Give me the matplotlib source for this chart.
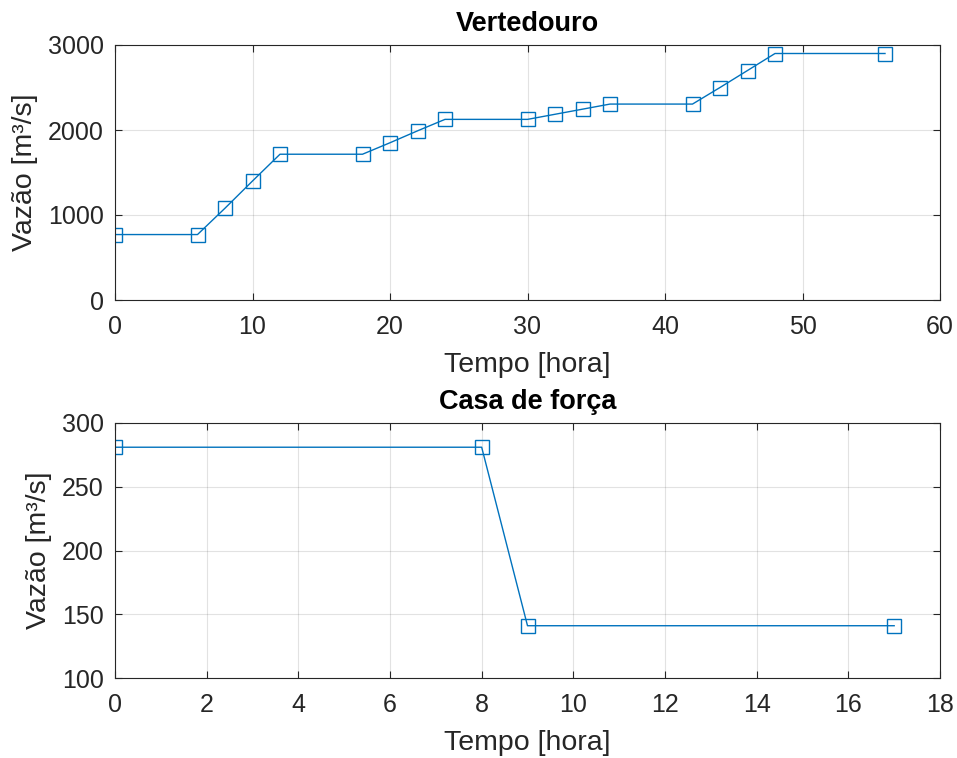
import matplotlib
matplotlib.use("Agg")
import matplotlib.pyplot as plt

# --------------------------------------------
# Data
# --------------------------------------------

t_vert = [0, 6, 8, 10, 12, 18, 20, 22, 24, 30, 32, 34, 36, 42, 44, 46, 48, 56]
q_vert = [770, 770, 1080, 1400, 1715, 1715, 1850, 1990, 2125, 2125,
          2185, 2245, 2305, 2305, 2500, 2700, 2900, 2900]

t_casa = [0, 8, 9, 17]
q_casa = [281, 281, 141, 141]

plt.rcParams["font.family"] = ["Liberation Sans", "DejaVu Sans"]

blue = "#0072BD"
dark = "#262626"

fig = plt.figure(figsize=(9.57, 7.58), dpi=100)

ax1 = fig.add_axes([115 / 957, 1 - 300 / 758, 825 / 957, 255 / 758])
ax2 = fig.add_axes([115 / 957, 1 - 678 / 758, 825 / 957, 255 / 758])


def style(ax, xlim, ylim, xticks, yticks, title):
    ax.set_xlim(*xlim)
    ax.set_ylim(*ylim)
    ax.set_xticks(xticks)
    ax.set_yticks(yticks)
    ax.grid(True, color="#262626", alpha=0.13, linewidth=0.8)
    ax.set_axisbelow(True)
    ax.tick_params(direction="in", top=True, right=True, length=5,
                   labelsize=18, colors=dark)
    ax.tick_params(axis="x", pad=11)
    ax.tick_params(axis="y", pad=8)
    for s in ax.spines.values():
        s.set_color(dark)
        s.set_linewidth(0.8)
    ax.set_xlabel("Tempo [hora]", fontsize=20.5, color=dark, labelpad=9)
    ax.set_ylabel("Vazão [m³/s]", fontsize=20.5, color=dark, labelpad=7)
    ax.set_title(title, fontsize=19.5, fontweight="bold", color="black", pad=10)


ax1.plot(t_vert, q_vert, color=blue, linewidth=1, marker="s",
         markersize=9.5, markerfacecolor="none", markeredgewidth=1)
style(ax1, (0, 60), (0, 3000), range(0, 61, 10), range(0, 3001, 1000), "Vertedouro")

ax2.plot(t_casa, q_casa, color=blue, linewidth=1, marker="s",
         markersize=9.5, markerfacecolor="none", markeredgewidth=1)
style(ax2, (0, 18), (100, 300), range(0, 19, 2), range(100, 301, 50), "Casa de força")

fig.savefig("out.png", dpi=100)
